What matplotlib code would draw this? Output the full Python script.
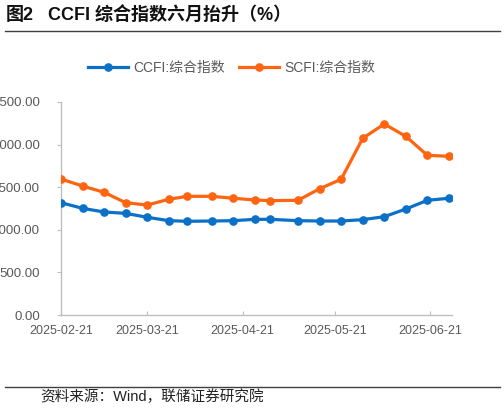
import matplotlib
matplotlib.use("Agg")
import matplotlib.pyplot as plt
import matplotlib.dates as mdates
import numpy as np
import pandas as pd
from matplotlib.lines import Line2D

plt.rcParams['font.family'] = ['Liberation Sans', 'Noto Sans CJK SC', 'DejaVu Sans']

dates = ['2025-02-21', '2025-02-28', '2025-03-07', '2025-03-14', '2025-03-21',
         '2025-03-28', '2025-04-03', '2025-04-11', '2025-04-18', '2025-04-25',
         '2025-04-30', '2025-05-09', '2025-05-16', '2025-05-23', '2025-05-30',
         '2025-06-06', '2025-06-13', '2025-06-20', '2025-06-27']
ccfi = [1318, 1252, 1209, 1193, 1147, 1107, 1100, 1103, 1107, 1123,
        1123, 1107, 1103, 1103, 1119, 1154, 1244, 1346, 1370]
scfi = [1596, 1514, 1440, 1318, 1291, 1358, 1393, 1393, 1370, 1350,
        1342, 1346, 1482, 1593, 2074, 2242, 2097, 1874, 1863]
xtick_labels = ['2025-02-21', '2025-03-21', '2025-04-21', '2025-05-21', '2025-06-21']
yticks = [0, 500, 1000, 1500, 2000, 2500]
series_names = ['CCFI:综合指数', 'SCFI:综合指数']
title_a = '图2'
title_b = 'CCFI 综合指数六月抬升（%）'
source = '资料来源：Wind，联储证券研究院'

blue = '#0A70C8'
orange = '#FF6410'
gray_text = '#595959'
spine_c = '#BFBFBF'

fig = plt.figure(figsize=(5.04, 4.12), dpi=100)
ax = fig.add_axes([61/504, 97/412, (452-61)/504, (315-102)/412])

x = pd.to_datetime(dates)
ax.plot(x, ccfi, color=blue, lw=2.3, marker='o', ms=5.2, label=series_names[0], zorder=3)
ax.plot(x, scfi, color=orange, lw=2.3, marker='o', ms=5.2, label=series_names[1], zorder=3)

ax.set_xlim(pd.Timestamp('2025-02-21'), pd.Timestamp('2025-06-28'))
ax.set_ylim(0, 2500)
ax.set_xticks(pd.to_datetime(xtick_labels))
ax.set_xticklabels(xtick_labels)
ax.set_yticks(yticks)
ax.set_yticklabels([f'{v:.2f}' for v in yticks])

for s in ['top', 'right']:
    ax.spines[s].set_visible(False)
for s in ['left', 'bottom']:
    ax.spines[s].set_color(spine_c)
    ax.spines[s].set_linewidth(1.0)

ax.tick_params(axis='x', direction='in', length=3, color=spine_c, labelsize=9,
               labelcolor=gray_text, pad=7)
ax.tick_params(axis='y', direction='out', length=3, color=spine_c, labelsize=9.5,
               labelcolor=gray_text, pad=12)

# legend
handles = [Line2D([], [], color=blue, lw=2.3, marker='o', ms=5.2),
           Line2D([], [], color=orange, lw=2.3, marker='o', ms=5.2)]
leg = fig.legend(handles, series_names, loc='center', bbox_to_anchor=(231.5/504, 1-68/412),
                 ncol=2, frameon=False, fontsize=10, handlelength=2.9,
                 handletextpad=0.35, columnspacing=1.0, borderpad=0)
for t in leg.get_texts():
    t.set_color(gray_text)

# title and rules
fig.text(6/504, 1-15/412, title_a, fontsize=13, fontweight='bold', color='#111111',
         ha='left', va='center')
fig.text(48/504, 1-15/412, title_b, fontsize=13, fontweight='bold', color='#111111',
         ha='left', va='center')
fig.add_artist(Line2D([5/504, 500/504], [1-31/412, 1-31/412], color='#404040', lw=1.0,
                      transform=fig.transFigure))
fig.add_artist(Line2D([5/504, 500/504], [1-387/412, 1-387/412], color='#404040', lw=1.0,
                      transform=fig.transFigure))
fig.text(40/504, 1-397/412, source, fontsize=10.5, color='#222222', ha='left', va='center')

fig.savefig('out.png', dpi=100)
